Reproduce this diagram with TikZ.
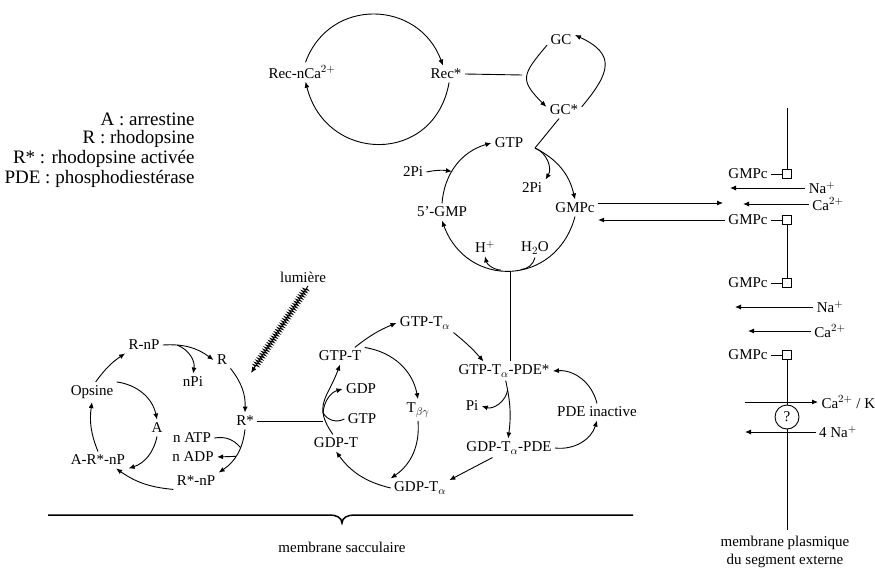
\documentclass[tikz,border=0pt]{standalone}
\usepackage{fontspec}
\setmainfont{Liberation Serif}
\usetikzlibrary{arrows.meta}
\usetikzlibrary{decorations.pathmorphing}

\tikzset{
	lab/.style={inner sep=1pt,outer sep=2.5pt,font=\fontsize{15}{18}\selectfont},
	leg/.style={anchor=east,inner sep=0pt,font=\fontsize{19}{21}\selectfont},
	chan/.style={draw,minimum size=9pt,inner sep=0pt,line width=0.8pt},
	light/.style={->,decorate,decoration={zigzag,segment length=2.6pt,amplitude=2.6pt,pre length=3pt,post length=7pt}}
}

\begin{document}
\begin{tikzpicture}[x=1pt,y=-1pt,line width=0.9pt,>={Latex[length=6pt,width=5pt]}]
		\useasboundingbox (0,0) rectangle (875,572);
		% legende
		\node[leg] (LA) at (195,119) {A : arrestine};
		\node[leg] (LR) at (195,139) {R : rhodopsine};
		\node[leg] (LRs) at (195,159) {R* : rhodopsine activée};
		\node[leg] (LP) at (195,179) {PDE : phosphodiestérase};
		
		\begin{scope}
		\node[lab] (RecCa) at (302,72) {Rec-nCa$^{2+}$};
		\node[lab] (Rec) at (446,74) {Rec*};
		\node[lab] (GC) at (561,40) {GC};
		\node[lab] (GCs) at (564,110) {GC*};
		\coordinate (GCl) at (522,75);
		\draw[->] (RecCa.70) to[out=70,in=110,looseness=1.3] (Rec.110);
		\draw[->] (Rec.-70) to[out=-100,in=-76,looseness=1.5] (RecCa.-70);
		\draw (Rec.east)--(GCl);
		\draw[->] (GC.200) to[out=-130,in=135,looseness=1.6] (GCs.170);
		\draw[->] (GCs.10) to[out=50,in=-25,looseness=1.6] (GC.20);
		\end{scope}
		
		\begin{scope}
		\node[lab] (GTP) at (509,143) {GTP};
		\node[lab] (GMPf) at (442,212) {5'-GMP};
		\node[lab] (GMPc) at (575,208) {GMPc};
		\node[lab] (PiA) at (413,172) {2Pi};
		\node[lab] (PiB) at (532,188) {2Pi};
		\node[lab] (Hp) at (485,247) {H$^+$};
		\node[lab] (HO) at (535,248) {H$_2$O};
		\coordinate (GTPr) at (535,148);
		\draw (GCs.240)--(GTPr);
		\draw[->] (GMPf.north) to[bend left=35] coordinate[pos=0.4] (PiJ) (GTP.west);
		\draw[->] (PiA.east) to[bend left=10] (PiJ);
		\draw[->] (GTPr) to[bend left=25] (GMPc.north);
		\draw[->] (GTPr) to[bend left=50] (PiB.north east);
		\draw[->] (GMPc.south) to[out=-105,in=-70,looseness=1.4] coordinate[pos=0.44] (HjR) coordinate[pos=0.5] (HJ) coordinate[pos=0.56] (HjL) (GMPf.south);
		\draw (HO.south) to[bend left=35] (HjR);
		\draw[->] (HjL) to[bend left=35] (Hp.south);
		\end{scope}
		
		% membrane plasmique
		\begin{scope}
		\node[lab] (GMPa) at (748,174) {GMPc};
		\node[lab] (GMPb) at (748,220) {GMPc};
		\node[lab] (GMPg) at (748,283) {GMPc};
		\node[lab] (GMPd) at (748,355) {GMPc};
		\node[chan] (Sa) at (787,174) {};
		\node[chan] (Sb) at (787,220) {};
		\node[chan] (Sc) at (787,283) {};
		\node[chan] (Sd) at (787,355) {};
		\node[draw,circle,minimum size=24pt,inner sep=0pt,font=\fontsize{15}{18}\selectfont] (Ex) at (787,417) {?};
		\coordinate (Mtop) at (787,108);
		\coordinate (Mbot) at (787,530);
		\draw (Mtop)--(Sa.north);
		\draw (Sb.south)--(Sc.north);
		\draw (Sd.south)--(Ex.north);
		\draw (Ex.south)--(Mbot);
		\draw (GMPa.east)--(Sa.west);
		\draw (GMPb.east)--(Sb.west);
		\draw (GMPg.east)--(Sc.west);
		\draw (GMPd.east)--(Sd.west);
		\node[lab] (NaA) at (822,188) {Na$^+$};
		\node[lab] (CaA) at (828,204) {Ca$^{2+}$};
		\node[lab] (NaB) at (830,307) {Na$^+$};
		\node[lab] (CaB) at (830,331) {Ca$^{2+}$};
		\node[lab,anchor=west] (CaK) at (818,402) {Ca$^{2+}$ / K};
		\node[lab] (NaC) at (838,432) {4 Na$^+$};
		\coordinate (NaAe) at (730,188);
		\coordinate (CaAe) at (743,204);
		\coordinate (NaBe) at (735,307);
		\coordinate (CaBe) at (748,331);
		\coordinate (CaKs) at (745,402);
		\coordinate (NaCe) at (745,432);
		\draw[->] (NaA.west)--(NaAe);
		\draw[->] (CaA.west)--(CaAe);
		\draw[->] (NaB.west)--(NaBe);
		\draw[->] (CaB.west)--(CaBe);
		\draw[->] (CaKs)--(CaK.west);
		\draw[->] (NaC.west)--(NaCe);
		\node[lab,align=center] (MP) at (785,552) {membrane plasmique\\du segment externe};
		\end{scope}
		
		\coordinate (Gin) at (723,203);
		\draw[->] (GMPc.east |- Gin)--(Gin);
		\draw[->] (GMPb.west)--(GMPb.west -| GMPc.east);
		
		% rhodopsine
		\begin{scope}
		\node[lab] (RnP) at (144,345) {R-nP};
		\node[lab] (R) at (222,360) {R};
		\node[lab] (nPi) at (193,382) {nPi};
		\node[lab] (Ops) at (92,392) {Opsine};
		\node[lab] (A) at (157,428) {A};
		\node[lab] (Rs) at (245,421) {R*};
		\node[lab] (nATP) at (192,438) {n ATP};
		\node[lab] (nADP) at (193,457) {n ADP};
		\node[lab] (ARnP) at (98,460) {A-R*-nP};
		\node[lab] (RsnP) at (196,481) {R*-nP};
		\node[lab] (Lum) at (303,277) {lumière};
		\coordinate (LumT) at (251,373);
		\draw[light] (Lum.-60)--(LumT);
		\draw[->] (Ops.70) to[bend left=10] (RnP.south west);
		\draw[->] (Ops.north east) to[bend left=35] (A.north);
		\draw[->] (A.south) to[bend left=30] (ARnP.south east);
		\draw[->] (RsnP.south west) to[bend left=15] (ARnP.-25);
		\draw[->] (ARnP.north) to[bend left=15] (Ops.south);
		\draw[->] (RnP.east) to[bend left=20] coordinate[pos=0.25] (RnPj) (R.west);
		\draw[->] (RnPj) to[bend left=40] (nPi.north);
		\draw[->] (R.south east) to[bend left=20] (Rs.north);
		\draw[->] (Rs.south) to[bend left=25] coordinate[pos=0.35] (ATPj) coordinate[pos=0.55] (ADPj) (RsnP.north east);
		\draw (nATP.east) to[bend left=30] (ATPj);
		\draw[->] (ADPj)--(nADP.east);
		\end{scope}
		
		% transducine
		\begin{scope}
		\node[lab] (GTPT) at (340,356) {GTP-T};
		\node[lab] (GDP) at (361,389) {GDP};
		\node[lab] (GTPb) at (362,419) {GTP};
		\node[lab] (GDPT) at (336,443) {GDP-T};
		\node[lab] (GTPTa) at (425,323) {GTP-T$_\alpha$};
		\node[lab] (Tbg) at (418,410) {T$_{\beta\gamma}$};
		\node[lab] (GDPTa) at (420,488) {GDP-T$_\alpha$};
		\node[lab] (PDEs) at (504,371) {GTP-T$_\alpha$-PDE*};
		\node[lab] (Pi) at (472,406) {Pi};
		\node[lab] (GDPPDE) at (509,448) {GDP-T$_\alpha$-PDE};
		\node[lab] (PDEi) at (597,412) {PDE inactive};
		\draw[->] (GDPT.110) to[out=125,in=-110,looseness=1.3] coordinate[pos=0.3] (Tj) (GTPT.south);
		\draw (Rs.east)--(Rs.east -| Tj);
		\draw[->] (Tj) to[bend left=35] (GDP.west);
		\draw (GTPb.west) to[bend left=45] (Tj);
		\draw[->] (GTPT.30) to[bend left=8] (GTPTa.west);
		\draw[->] (GTPT.north east) to[bend left=35] (Tbg.north);
		\draw[->] (Tbg.south) to[bend left=30] (GDPTa.north west);
		\draw[->] (GDPTa.west) to[bend left=20] (GDPT.south);
		\draw[->] (GTPTa.south east) to[bend left=5] (PDEs.155);
		\draw (HJ)--(HJ |- PDEs.north);
		\draw[->] (PDEs.-80) to[bend left=10] coordinate[pos=0.15] (PDEj) (GDPPDE.95);
		\draw[->] (PDEj) to[bend left=50] (Pi.east);
		\draw[->] (GDPPDE.east) to[bend right=40] (PDEi.south);
		\draw[->] (PDEi.north) to[bend right=40] (PDEs.east);
		\draw[->] (GDPPDE.-150)--(GDPTa.15);
		\end{scope}
		
		% membrane sacculaire
		\node[lab] (MS) at (342,547) {membrane sacculaire};
		\coordinate (MSl) at (48,515);
		\coordinate (MSr) at (633,515);
		\draw[line width=1.5pt] (MSl)--(330,515) to[out=0,in=90] (342,523) to[out=90,in=180] (354,515)--(MSr);
\end{tikzpicture}
\end{document}
